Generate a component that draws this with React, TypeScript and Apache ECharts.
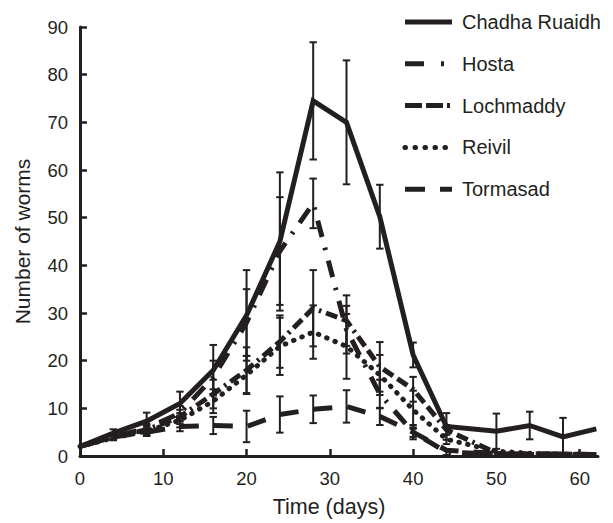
import React, { useEffect, useRef } from "react";
import * as echarts from "echarts";

const days = [0, 4, 8, 12, 16, 20, 24, 28, 32, 36, 40, 44, 50, 54, 58, 62];
const seriesNames = ["Chadha Ruaidh", "Hosta", "Lochmaddy", "Reivil", "Tormasad"];

const chadha = [2, 4.8, 7.3, 11, 18, 29.5, 45, 74.5, 70, 50.2, 21.2, 6.2, 5.2, 6.4, 4.0, 5.7];
const chadhaErr = [0, 0.8, 1.8, 2.5, 5.3, 9.5, 14.5, 12.3, 13, 6.7, 2.6, 2.8, 3.7, 2.9, 4.0, 0];
const hosta = [2, 4, 5.8, 9, 16.5, 28, 43, 53, 26.5, 13, 5, 0.8, 0.4, 0.3, 0.3, 0.2];
const hostaErr = [0, 0.5, 1, 1.5, 3.5, 7, 11.3, 5.2, 5, 3, 1.5, 0.6, 0.2, 0.2, 0.2, 0];
const lochmaddy = [2, 4, 5.5, 8.2, 13, 18, 24, 31, 28.4, 18.7, 14, 5.5, 0.6, 0.4, 0.4, 0.3];
const lochmaddyErr = [0, 0.5, 1, 1.5, 3, 4.8, 5.5, 8, 5.3, 5.2, 2.6, 1, 0.3, 0.2, 0.2, 0];
const reivil = [2, 3.8, 5.2, 7.5, 11.5, 17, 23, 26, 23, 17, 9.7, 3.5, 1, 0.6, 0.4, 0.3];
const reivilErr = [0, 0.5, 1, 1.5, 2.5, 4, 6, 5.6, 6.8, 4.2, 4, 1, 0.3, 0.2, 0.2, 0];
const tormasad = [2, 4, 5, 6.2, 6.4, 6.2, 8.7, 9.8, 10.4, 8.3, 5, 1.2, 0.5, 0.4, 0.4, 0.3];
const tormasadErr = [0, 0.5, 0.8, 1, 1.8, 3.3, 3.8, 2.9, 3.4, 1.8, 1, 0.3, 0.2, 0.2, 0.2, 0];

const xTicks = [0, 10, 20, 30, 40, 50, 60];

const INK = "#231f20";
const FONT = "'Liberation Sans', Arial, Helvetica, sans-serif";

const values = [chadha, hosta, lochmaddy, reivil, tormasad];
const errors = [chadhaErr, hostaErr, lochmaddyErr, reivilErr, tormasadErr];

const lineDashes: any[] = [
  "solid",
  [17, 11, 2.5, 11],
  [12, 5, 12, 5, 2.5, 5],
  [0.5, 8.5],
  [19, 15],
];
const lineCaps = ["butt", "butt", "butt", "round", "butt"];

const legendDashes: any[] = [null, [19, 17, 3, 10], [17, 4, 17, 4, 3, 5], [0.5, 9.5], [20, 15]];
const legendCaps = ["butt", "butt", "butt", "round", "butt"];

export default function App() {
  const ref = useRef<HTMLDivElement>(null);
  useEffect(() => {
    if (!ref.current) return;
    const chart = echarts.init(ref.current, null, { renderer: "svg" });

    const lineSeries = seriesNames.map((name, i) => ({
      name,
      type: "line",
      data: days.map((d, j) => [d, values[i][j]]),
      symbol: "none",
      z: 3,
      lineStyle: {
        color: INK,
        width: 5,
        type: lineDashes[i],
        cap: lineCaps[i],
        join: "miter",
      },
    }));

    const errSeries = seriesNames.map((name, i) => ({
      name: name + " error",
      type: "custom",
      z: 4,
      data: days
        .map((d, j) => [d, Math.max(0, values[i][j] - errors[i][j]), values[i][j] + errors[i][j], errors[i][j]])
        .filter((r) => r[3] > 0.4),
      encode: { x: 0, y: [1, 2] },
      renderItem: (params: any, api: any) => {
        const x = api.value(0);
        const lo = api.value(1);
        const hi = api.value(2);
        const p1 = api.coord([x, lo]);
        const p2 = api.coord([x, hi]);
        const w = 3.7;
        const style = { stroke: INK, lineWidth: 2 };
        return {
          type: "group",
          children: [
            { type: "line", shape: { x1: p1[0], y1: p1[1], x2: p2[0], y2: p2[1] }, style },
            { type: "line", shape: { x1: p1[0] - w, y1: p1[1], x2: p1[0] + w, y2: p1[1] }, style },
            { type: "line", shape: { x1: p2[0] - w, y1: p2[1], x2: p2[0] + w, y2: p2[1] }, style },
          ],
        };
      },
    }));

    const legendTop = 22;
    const legendStep = 41.8;
    const legendItems: any[] = [];
    seriesNames.forEach((name, i) => {
      const y = legendTop + i * legendStep;
      legendItems.push({
        type: "line",
        shape: { x1: 405, y1: y, x2: 452, y2: y },
        style: {
          stroke: INK,
          lineWidth: 5,
          lineDash: legendDashes[i] || undefined,
          lineCap: legendCaps[i],
        },
      });
      legendItems.push({
        type: "text",
        x: 462,
        y,
        style: {
          text: name,
          fill: INK,
          font: `20px ${FONT}`,
          verticalAlign: "middle",
          align: "left",
        },
      });
    });

    chart.setOption({
      animation: false,
      backgroundColor: "#ffffff",
      grid: { left: 80, right: 15, top: 27, bottom: 63 },
      xAxis: {
        type: "value",
        min: 0,
        max: 62.2,
        interval: 10,
        name: "Time (days)",
        nameLocation: "middle",
        nameGap: 40,
        nameTextStyle: { color: INK, fontSize: 21.5, fontFamily: FONT, padding: [0, 20, 0, 0] },
        axisLine: { onZero: false, lineStyle: { color: INK, width: 3 } },
        axisTick: { inside: true, length: 7, lineStyle: { color: INK, width: 2.5 }, customValues: xTicks },
        axisLabel: { color: INK, fontSize: 18.5, fontFamily: FONT, margin: 13, customValues: xTicks },
        splitLine: { show: false },
      },
      yAxis: {
        type: "value",
        min: 0,
        max: 90,
        interval: 10,
        name: "Number of worms",
        nameLocation: "middle",
        nameGap: 47,
        nameRotate: 90,
        nameTextStyle: { color: INK, fontSize: 21, fontFamily: FONT },
        axisLine: { onZero: false, lineStyle: { color: INK, width: 3 } },
        axisTick: { inside: true, length: 7, lineStyle: { color: INK, width: 2.5 } },
        axisLabel: { color: INK, fontSize: 18.5, fontFamily: FONT, margin: 12 },
        splitLine: { show: false },
      },
      graphic: legendItems,
      series: [...lineSeries, ...errSeries],
    } as any);

    return () => chart.dispose();
  }, []);

  return (
    <div
      ref={ref}
      style={{ position: "absolute", left: 0, top: 0, width: 613, height: 523 }}
    />
  );
}
